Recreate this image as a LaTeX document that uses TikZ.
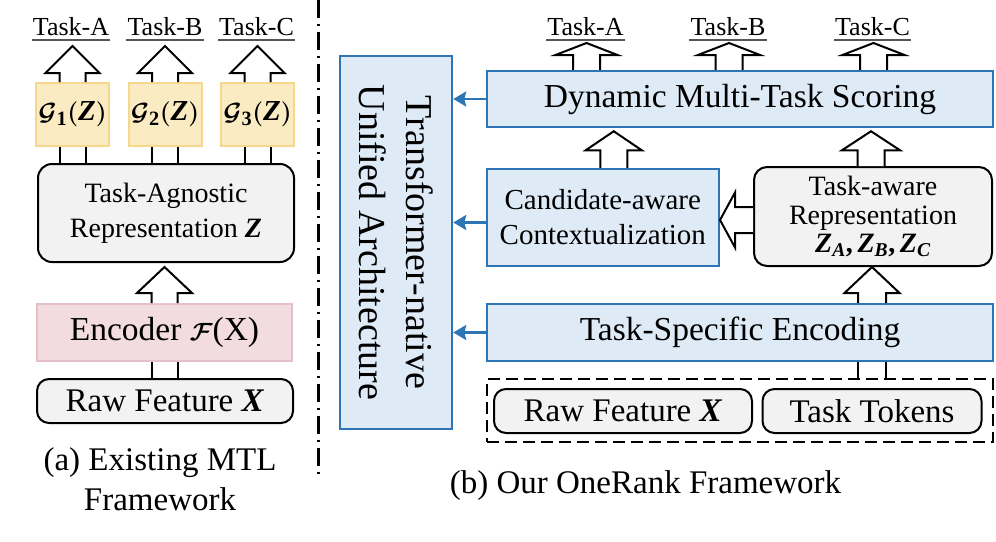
\documentclass[tikz,border=0pt]{standalone}
\usepackage{fontspec}
\setmainfont{Liberation Serif}
\usepackage{amsmath,bm}
\usetikzlibrary{arrows.meta,calc}
\definecolor{bluefill}{HTML}{DEEBF7}
\definecolor{blueline}{HTML}{2E75B6}
\definecolor{grayfill}{HTML}{F2F2F2}
\definecolor{yelfill}{HTML}{FAEBC3}
\definecolor{yelline}{HTML}{F5D88C}
\definecolor{pinkfill}{HTML}{F2DCE0}
\definecolor{pinkline}{HTML}{E6BFC8}
\definecolor{ulinecol}{HTML}{555555}
\newcommand{\fsz}[2]{\fontsize{#1}{#2}\selectfont}
\newcommand{\bi}[1]{\textbf{\textit{#1}}}
\newcommand{\gz}[1]{$\bm{\mathcal{G}}_{\mathbf{#1}}\bm{(}\text{\bi{Z}}\bm{)}$}
\newcommand{\zs}[1]{$\text{\bi{Z}}_{\text{\bi{#1}}}$}
% hollow block arrow pointing up: start, tip, shaft half, head half, head length
\newcommand{\uparr}[5]{%
  \draw[harrow] let \p1=#1, \p2=#2 in
    (\x1-#3pt,\y1) -- (\x1-#3pt,\y2-#5pt) -- (\x1-#4pt,\y2-#5pt) -- (\x1,\y2)
    -- (\x1+#4pt,\y2-#5pt) -- (\x1+#3pt,\y2-#5pt) -- (\x1+#3pt,\y1);}
% hollow block arrow pointing left
\newcommand{\leftarr}[5]{%
  \draw[harrow] let \p1=#1, \p2=#2 in
    (\x1,\y1-#3pt) -- (\x2+#5pt,\y1-#3pt) -- (\x2+#5pt,\y1-#4pt) -- (\x2,\y1)
    -- (\x2+#5pt,\y1+#4pt) -- (\x2+#5pt,\y1+#3pt) -- (\x1,\y1+#3pt);}
\begin{document}
\begin{tikzpicture}[x=1pt,y=-1pt,
  box/.style={draw, line width=2pt, inner sep=0pt, align=center},
  gbox/.style={box, draw=yelline, fill=yelfill, minimum width=73pt, minimum height=63pt, font=\fsz{29}{34}},
  graybox/.style={box, fill=grayfill, rounded corners=14pt},
  bluebox/.style={box, draw=blueline, fill=bluefill, line width=2.5pt},
  pinkbox/.style={box, draw=pinkline, fill=pinkfill},
  tasklbl/.style={inner sep=0pt, anchor=base, font=\fsz{26}{30}},
  uline/.style={draw=ulinecol, line width=1.4pt},
  harrow/.style={draw, fill=white, line width=2pt, line join=miter},
  bluearr/.style={draw=blueline, line width=2.5pt, -{Stealth[length=13pt,width=15pt,inset=2pt]}},
  shaft/.style={draw, line width=2pt},
  caption/.style={inner sep=0pt, anchor=base, font=\fsz{33}{40}},
  divider/.style={draw, line width=2.5pt, dash pattern=on 18pt off 6pt on 2pt off 6pt}
]
\useasboundingbox (0,0) rectangle (996,541);

% ---------------- left panel ----------------
\node[tasklbl] (la) at (71,35) {Task-A};
\node[tasklbl] (lb) at (165,35) {Task-B};
\node[tasklbl] (lc) at (256.5,35) {Task-C};
\foreach \n in {la,lb,lc}{
  \draw[uline] ($(\n.base west)+(-1,5)$) -- ($(\n.base east)+(1,5)$);}

\node[gbox] (g1) at (72.5,114.5) {\gz{1}};
\node[gbox] (g2) at (165,114.5) {\gz{2}};
\node[gbox] (g3) at (257.5,114.5) {\gz{3}};

\node[graybox, minimum width=256pt, minimum height=98pt, font=\fsz{28}{35}] (zb) at (166,213)
  {Task-Agnostic\\Representation \bi{Z}};
\node[pinkbox, minimum width=255pt, minimum height=57pt, font=\fsz{33.5}{36}] (enc) at (164.5,332.5)
  {Encoder $\bm{\mathcal{F}}$(X)};
\node[graybox, rounded corners=12pt, minimum width=256pt, minimum height=44pt, font=\fsz{33}{36}] (rawa) at (165,401)
  {Raw Feature \bi{X}};

\foreach \g/\t in {g1/la,g2/lb,g3/lc}{
  \uparr{(\g.north)}{($(\g.north |- \t.base)+(0,11)$)}{13}{27}{27}
  \draw[shaft] ($(\g.south)+(-13,0)$) -- ($(\g.south |- zb.north)+(-13,0)$);
  \draw[shaft] ($(\g.south)+(13,0)$) -- ($(\g.south |- zb.north)+(13,0)$);
}
\uparr{(enc.north)}{($(enc.north |- zb.south)+(0,4)$)}{13}{27.5}{26}
\draw[shaft] ($(enc.south)+(-13,0)$) -- ($(enc.south |- rawa.north)+(-13,0)$);
\draw[shaft] ($(enc.south)+(13,0)$) -- ($(enc.south |- rawa.north)+(13,0)$);

\node[caption] (capa1) at (160,470) {(a) Existing MTL};
\node[caption] (capa2) at (160,510) {Framework};

% divider
\coordinate (dtop) at (318.5,0);
\coordinate (dbot) at (318.5,478);
\draw[divider] (dtop) -- (dbot);

% ---------------- right panel ----------------
\node[tasklbl] (ra) at (585.5,35) {Task-A};
\node[tasklbl] (rb) at (728,35) {Task-B};
\node[tasklbl] (rc) at (872.5,35) {Task-C};
\foreach \n in {ra,rb,rc}{
  \draw[uline] ($(\n.base west)+(-1,5)$) -- ($(\n.base east)+(1,5)$);}

\node[bluebox, rotate=-90, minimum width=373pt, minimum height=112pt, font=\fsz{38}{47}] (tr) at (396,242.5)
  {Transformer-native\\Unified Architecture};

\node[bluebox, minimum width=506pt, minimum height=56pt, font=\fsz{33.5}{36}] (dyn) at (740,99)
  {Dynamic Multi-Task Scoring};
\node[bluebox, minimum width=232pt, minimum height=97pt, font=\fsz{29}{35}] (cand) at (602.75,217.5)
  {Candidate-aware\\Contextualization};
\node[graybox, rounded corners=13pt, minimum width=238pt, minimum height=99pt, font=\fsz{28}{29}] (ta) at (873,216.5)
  {Task-aware\\Representation\\[-1pt]\zs{A}\textbf{,}\,\zs{B}\textbf{,}\,\zs{C}};
\node[bluebox, minimum width=506pt, minimum height=57pt, font=\fsz{33.5}{36}] (ts) at (740,332.5)
  {Task-Specific Encoding};
\node[draw, line width=2.2pt, dash pattern=on 12pt off 6pt, minimum width=506pt, minimum height=63pt, inner sep=0pt] (db) at (740,410.5) {};
\node[graybox, rounded corners=12pt, minimum width=258pt, minimum height=44pt, font=\fsz{33}{36}] (rawb) at (623,411)
  {Raw Feature \bi{X}};
\node[graybox, rounded corners=12pt, minimum width=219pt, minimum height=44pt, font=\fsz{33}{36}] (tok) at (872,411)
  {Task Tokens};

\foreach \t in {ra,rb,rc}{
  \uparr{($(\t.base |- dyn.north)+(1,0)$)}{($(\t.base)+(1,8)$)}{13.5}{31}{12}
}
\uparr{($(cand.north)+(11,0)$)}{($(cand.north |- dyn.south)+(11,3)$)}{13.5}{28}{19}
\uparr{($(ta.north)+(-2,0)$)}{($(ta.north |- dyn.south)+(-2,3)$)}{13.5}{29}{19}
\uparr{($(ts.north -| ta.north)+(-1,0)$)}{($(ta.south)+(-1,0)$)}{14}{27.5}{26}
\draw[shaft] ($(ts.south -| ta.south)+(-15,0)$) -- ($(db.north -| ta.south)+(-15,0)$);
\draw[shaft] ($(ts.south -| ta.south)+(13,0)$) -- ($(db.north -| ta.south)+(13,0)$);
\leftarr{($(ta.west)+(0,3.5)$)}{($(cand.east |- ta.west)+(0,3.5)$)}{13}{27.5}{15}

\draw[bluearr] (dyn.west) -- (tr.north |- dyn.west);
\draw[bluearr] ($(cand.west)+(0,5)$) -- ($(tr.north |- cand.west)+(0,5)$);
\draw[bluearr] (ts.west) -- (tr.north |- ts.west);

\node[caption] (capb) at (645.5,493) {(b) Our OneRank Framework};
\end{tikzpicture}
\end{document}
